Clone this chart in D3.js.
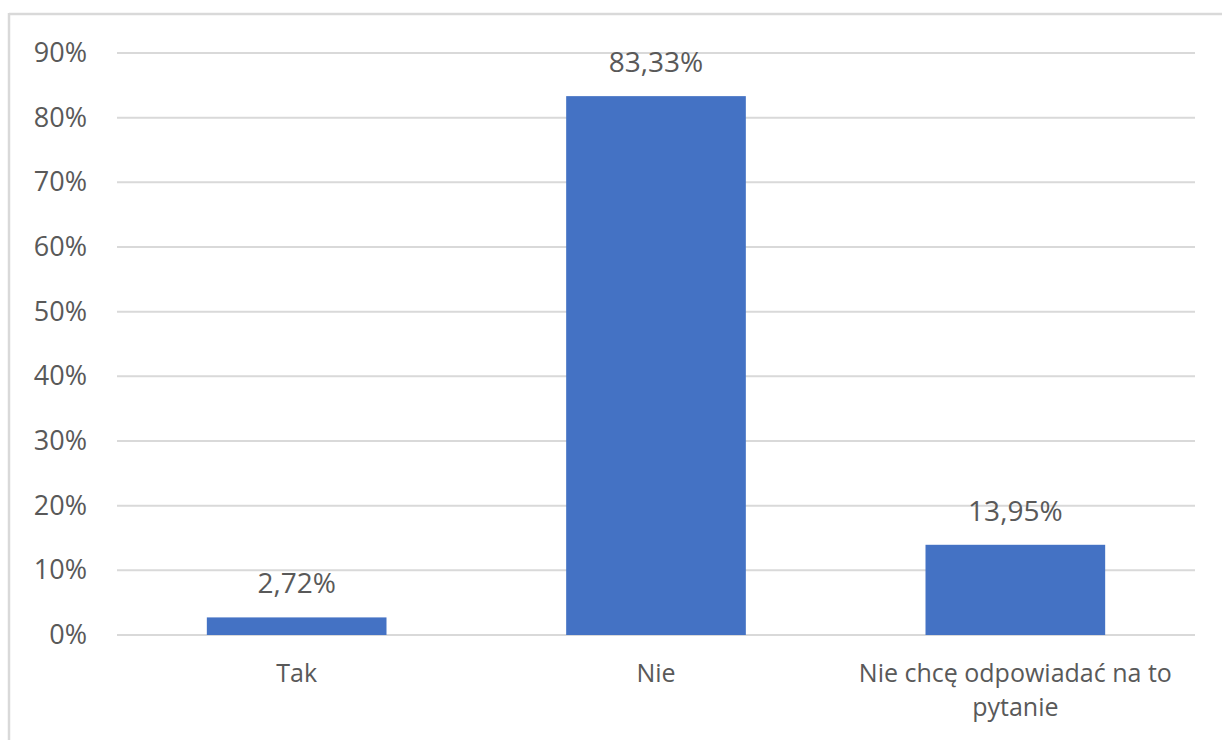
<!DOCTYPE html>
<html>
<head>
<meta charset="utf-8">
<script src="https://cdn.jsdelivr.net/npm/d3@7"></script>
<style>
  html, body { margin: 0; padding: 0; background: #fff; }
  svg { display: block; }
  text { font-family: "Open Sans", sans-serif; fill: #595959; }
</style>
</head>
<body>
<svg id="chart" width="1222" height="740"></svg>
<script>
const categories = ["Tak", "Nie", "Nie chcę odpowiadać na to pytanie"];
const values = [2.72, 83.33, 13.95];
const valueLabels = ["2,72%", "83,33%", "13,95%"];
const tickValues = [0, 10, 20, 30, 40, 50, 60, 70, 80, 90];

const W = 1222, H = 740;
const margin = { left: 117, right: 27, top: 53, bottom: 105 };
const svg = d3.select("#chart");

// outer frame (top and left edges visible)
svg.append("line").attr("x1", 9).attr("x2", W).attr("y1", 14).attr("y2", 14)
  .attr("stroke", "#d9d9d9").attr("stroke-width", 2.5);
svg.append("line").attr("x1", 9).attr("x2", 9).attr("y1", 13).attr("y2", H)
  .attr("stroke", "#d9d9d9").attr("stroke-width", 2.5);

const x = d3.scaleBand().domain(categories)
  .range([margin.left, W - margin.right])
  .paddingInner(0.5).paddingOuter(0.25);
const y = d3.scaleLinear().domain([0, 90]).range([H - margin.bottom, margin.top]);

// gridlines
svg.append("g").selectAll("line").data(tickValues).join("line")
  .attr("x1", margin.left).attr("x2", W - margin.right)
  .attr("y1", d => y(d)).attr("y2", d => y(d))
  .attr("stroke", "#d9d9d9").attr("stroke-width", 2);

// y axis labels
const yAxis = d3.axisLeft(y).tickValues(tickValues).tickFormat(d => d + "%").tickSize(0).tickPadding(30);
const gy = svg.append("g").attr("transform", `translate(${margin.left},0)`).call(yAxis);
gy.select(".domain").remove();
gy.selectAll("text").style("font-size", "27px").style("fill", "#595959")
  .style("font-family", '"Open Sans", sans-serif');

// bars
svg.append("g").selectAll("rect").data(values).join("rect")
  .attr("x", (d, i) => x(categories[i]))
  .attr("width", x.bandwidth())
  .attr("y", d => y(d))
  .attr("height", d => y(0) - y(d))
  .attr("fill", "#4472c4");

// value labels
svg.append("g").selectAll("text").data(values).join("text")
  .attr("x", (d, i) => x(categories[i]) + x.bandwidth() / 2)
  .attr("y", d => y(d) - 24)
  .attr("text-anchor", "middle")
  .style("font-size", "28px")
  .text((d, i) => valueLabels[i]);

// x axis labels with wrapping
const xAxis = d3.axisBottom(x).tickSize(0).tickPadding(0);
const gx = svg.append("g").attr("transform", `translate(0,${y(0)})`).call(xAxis);
gx.select(".domain").remove();
gx.selectAll("text").remove();
gx.selectAll(".tick").each(function(d) {
  const t = d3.select(this).append("text")
    .attr("text-anchor", "middle")
    .style("font-size", "25px")
    .style("fill", "#595959")
    .style("font-family", '"Open Sans", sans-serif');
  const words = d.split(" ");
  let line = [], lineNo = 0;
  let tspan = t.append("tspan").attr("x", 0).attr("y", 47);
  for (const w of words) {
    line.push(w);
    tspan.text(line.join(" "));
    if (tspan.node().getComputedTextLength() > 330 && line.length > 1) {
      line.pop();
      tspan.text(line.join(" "));
      line = [w];
      lineNo++;
      tspan = t.append("tspan").attr("x", 0).attr("y", 47 + lineNo * 34).text(w);
    }
  }
});
</script>
</body>
</html>
